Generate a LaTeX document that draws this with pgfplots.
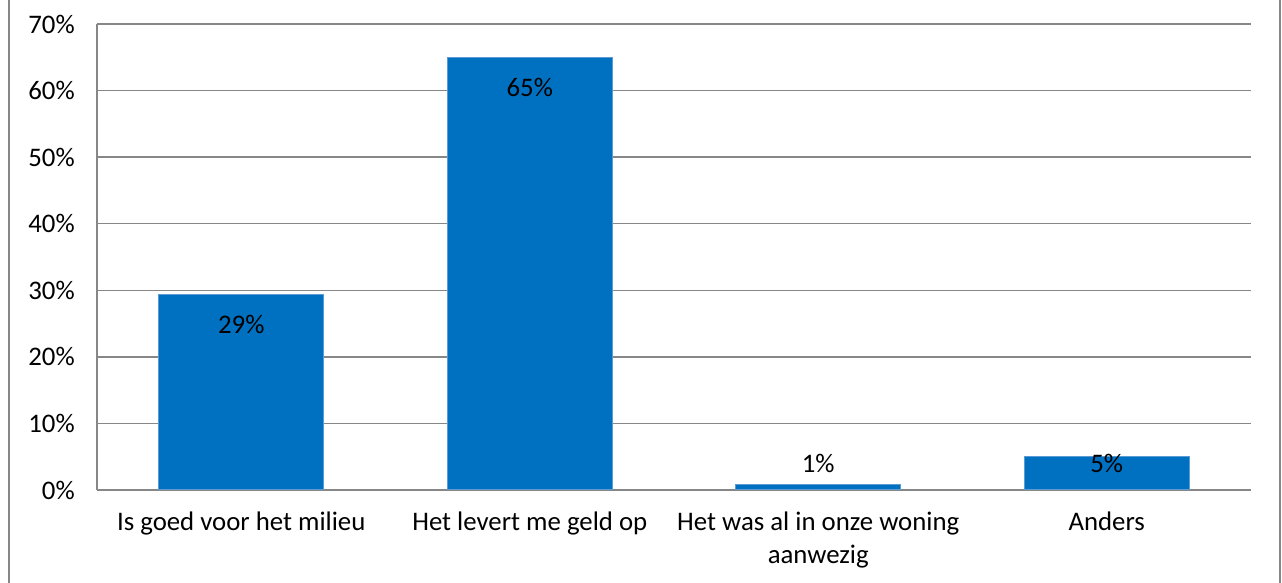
\documentclass[border=0pt]{standalone}
\usepackage{fontspec}
\setmainfont{Carlito}
\usepackage{pgfplots}
\usepackage{pgfplotstable}
\pgfplotsset{compat=1.18}
\definecolor{barblue}{HTML}{0070C0}
\definecolor{baredge}{HTML}{5B9BD5}
\definecolor{gridgray}{HTML}{878787}

% aandeel per reden (in %)
\pgfplotstableread{
x val
0 29.4
1 64.9
2 0.9
3 5.1
}\redenen

% positie van de labels
\pgfplotstableread{
x ly lab
0 24.8 29
1 60.4 65
2 4.05 1
3 4.05 5
}\labels

\begin{document}
\fontsize{13.4}{16.5}\selectfont
\begin{tikzpicture}
\useasboundingbox (-48.5pt,-46.5pt) rectangle (592.5pt,245pt);
\draw[gridgray, line width=1pt] (-44pt,-46.5pt) -- (-44pt,245pt);
\draw[gridgray, line width=1pt] (591.5pt,-46.5pt) -- (591.5pt,245pt);
\begin{axis}[
  at={(0,0)}, anchor=south west,
  scale only axis, width=577pt, height=233pt,
  xmin=-0.5, xmax=3.5, ymin=0, ymax=70,
  ytick={0,10,...,70},
  xtick={0,1,2,3},
  xticklabels={Is goed voor het milieu, Het levert me geld op, {Het was al in onze woning\\aanwezig}, Anders},
  xticklabel style={align=center, yshift=-6.5pt},
  yticklabel={\pgfmathprintnumber{\tick}\%},
  yticklabel style={xshift=-6.5pt},
  /pgf/number format/assume math mode=true,
  font=\fontsize{13.4}{16.5}\selectfont,
  tick style={draw=none},
  ymajorgrids, grid style={gridgray, line width=0.75pt},
  axis line style={gridgray, line width=0.75pt},
  axis x line*=bottom, axis y line*=left,
  clip=false,
]
\addplot[ybar, bar width=82.5pt, fill=barblue, draw=baredge, line width=0.5pt]
  table[x=x, y=val] {\redenen};
\addplot[draw=none, mark=none, only marks, mark size=0pt,
  point meta=explicit,
  nodes near coords={\pgfmathprintnumber{\pgfplotspointmeta}\%},
  nodes near coords align=center,
  every node near coord/.append style={anchor=center, font=\fontsize{13.4}{16.5}\selectfont, /pgf/number format/assume math mode=true}]
  table[x=x, y=ly, meta=lab] {\labels};
\end{axis}
\end{tikzpicture}
\end{document}
